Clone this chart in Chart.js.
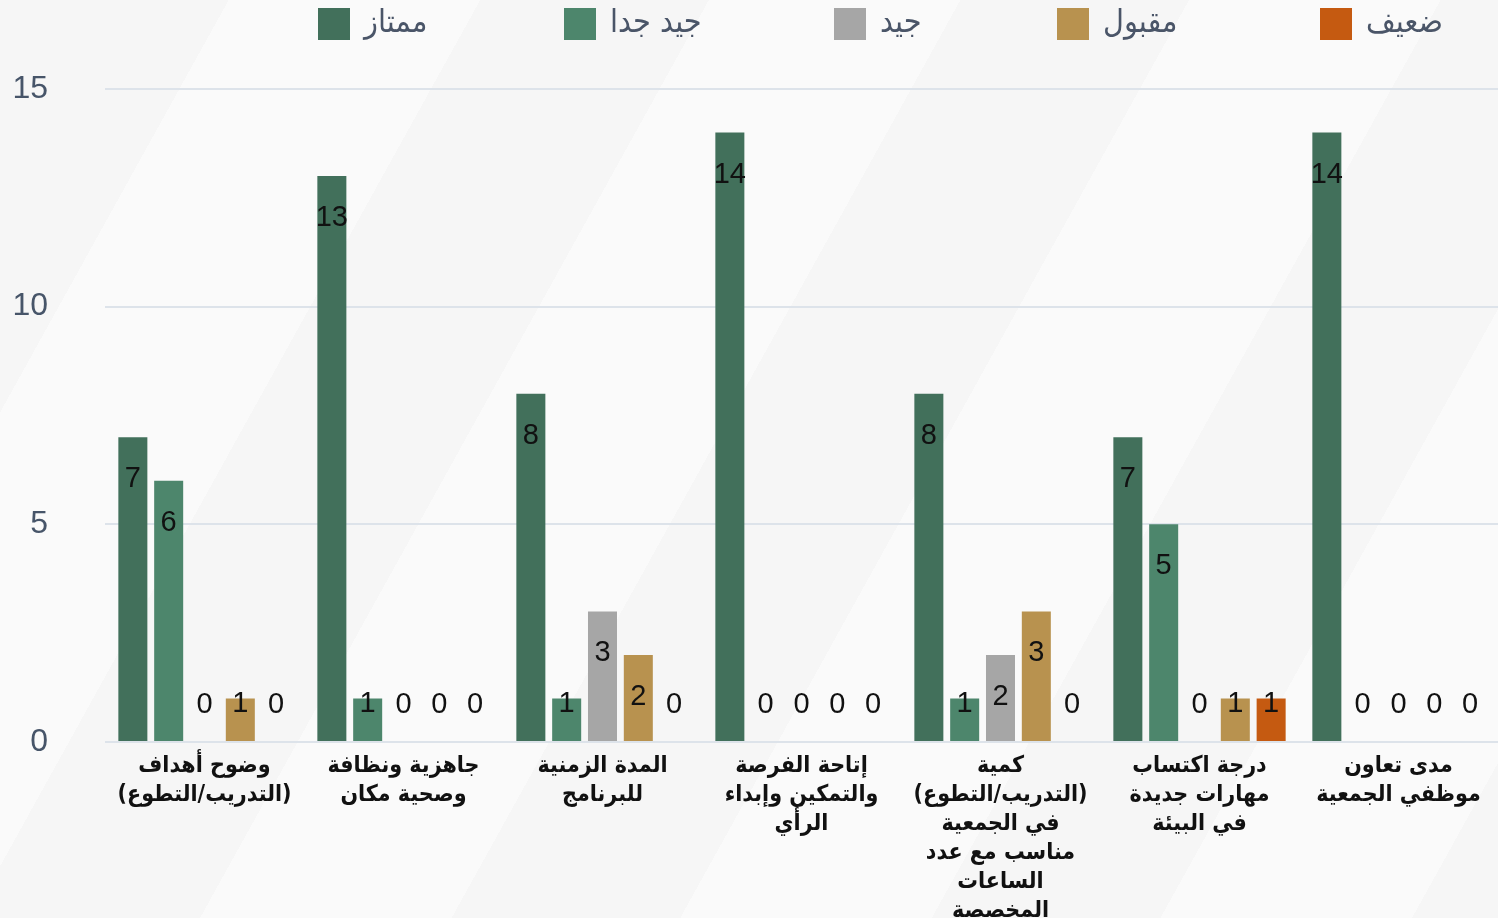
<!DOCTYPE html>
<html lang="ar">
<head>
<meta charset="utf-8">
<title>تقييم البرنامج</title>
<script src="https://cdn.jsdelivr.net/npm/chart.js@4.4.1/dist/chart.umd.min.js"></script>
<style>
  html, body {
    margin: 0;
    padding: 0;
    width: 1498px;
    height: 918px;
    overflow: hidden;
    background-color: #f8f8f8;
    background-image: repeating-linear-gradient(119deg,
      #f6f6f6 0px, #f6f6f6 200px, #fafafa 200px, #fafafa 420px);
  }
  #wrap { position: relative; width: 1498px; height: 918px; }
</style>
</head>
<body>
<div id="wrap"><canvas id="ratingChart"></canvas></div>
<script>
// categories (x axis), each split into the lines shown under the bars
const categories = [
    ['وضوح أهداف', '(التدريب/التطوع)'],
    ['جاهزية ونظافة', 'وصحية مكان'],
    ['المدة الزمنية', 'للبرنامج'],
    ['إتاحة الفرصة', 'والتمكين وإبداء', 'الرأي'],
    ['كمية', '(التدريب/التطوع)', 'في الجمعية', 'مناسب مع عدد', 'الساعات', 'المخصصة'],
    ['درجة اكتساب', 'مهارات جديدة', 'في البيئة'],
    ['مدى تعاون', 'موظفي الجمعية']
];

// counts per rating
const excellent = [7, 13, 8, 14, 8, 7, 14];   // ممتاز
const veryGood  = [6, 1, 1, 0, 1, 5, 0];      // جيد جدا
const good      = [0, 0, 3, 0, 2, 0, 0];      // جيد
const fair      = [1, 0, 2, 0, 3, 1, 0];      // مقبول
const weak      = [0, 0, 0, 0, 0, 1, 0];      // ضعيف

const seriesNames = ['ممتاز', 'جيد جدا', 'جيد', 'مقبول', 'ضعيف'];
const seriesColors = ['#42705b', '#4d866c', '#a6a6a6', '#b8924f', '#c55a11'];

const yTicks = [0, 5, 10, 15];

const numFont = "'Liberation Sans', Arial, sans-serif";
const arFont = "'DejaVu Sans Condensed', 'DejaVu Sans', sans-serif";

// where each legend swatch starts along the top row
const legendX = [318, 564, 834, 1057, 1320];

// value labels near the top of each bar (kept above the baseline for small values)
const valueLabels = {
    id: 'valueLabels',
    afterDatasetsDraw(chart) {
        const ctx = chart.ctx;
        ctx.save();
        ctx.font = '29px ' + numFont;
        ctx.fillStyle = '#111111';
        ctx.textAlign = 'center';
        ctx.textBaseline = 'middle';
        chart.data.datasets.forEach((ds, i) => {
            chart.getDatasetMeta(i).data.forEach((bar, j) => {
                const y = Math.min(bar.y + 42, bar.base - 37);
                ctx.fillText(String(ds.data[j]), bar.x, y);
            });
        });
        ctx.restore();
    }
};

// legend row across the top
const topLegend = {
    id: 'topLegend',
    afterDraw(chart) {
        const ctx = chart.ctx;
        ctx.save();
        ctx.font = '32px ' + arFont;
        ctx.textBaseline = 'middle';
        ctx.textAlign = 'left';
        const y = 24;
        chart.data.datasets.forEach((ds, i) => {
            const x = legendX[i];
            ctx.fillStyle = ds.backgroundColor;
            ctx.fillRect(x, y - 16, 32, 32);
            ctx.fillStyle = '#4a5568';
            ctx.fillText(ds.label, x + 46, y);
        });
        ctx.restore();
    }
};

const datasets = [excellent, veryGood, good, fair, weak].map((values, i) => ({
    label: seriesNames[i],
    data: values,
    backgroundColor: seriesColors[i],
    borderWidth: 0,
    categoryPercentage: 0.9,
    barPercentage: 0.81
}));

new Chart(document.getElementById('ratingChart'), {
    type: 'bar',
    data: { labels: categories, datasets: datasets },
    options: {
        responsive: true,
        maintainAspectRatio: false,
        animation: false,
        layout: { padding: { top: 89, left: 0, right: -4, bottom: 0 } },
        plugins: {
            legend: { display: false },
            tooltip: { enabled: false }
        },
        scales: {
            x: {
                grid: { display: false },
                border: { display: false },
                ticks: {
                    color: '#111111',
                    font: { family: arFont, size: 23, weight: 'bold', lineHeight: 1.26 },
                    padding: 2,
                    maxRotation: 0,
                    autoSkip: false
                },
                afterFit(scale) { scale.height = 176; }
            },
            y: {
                min: 0,
                max: 15,
                afterBuildTicks(scale) { scale.ticks = yTicks.map(v => ({ value: v })); },
                grid: { color: '#dde3ea', lineWidth: 2, drawTicks: false },
                border: { display: false },
                ticks: {
                    color: '#475569',
                    font: { family: numFont, size: 32 },
                    padding: 57
                },
                afterFit(scale) { scale.width = 105; }
            }
        }
    },
    plugins: [valueLabels, topLegend]
});
</script>
</body>
</html>
